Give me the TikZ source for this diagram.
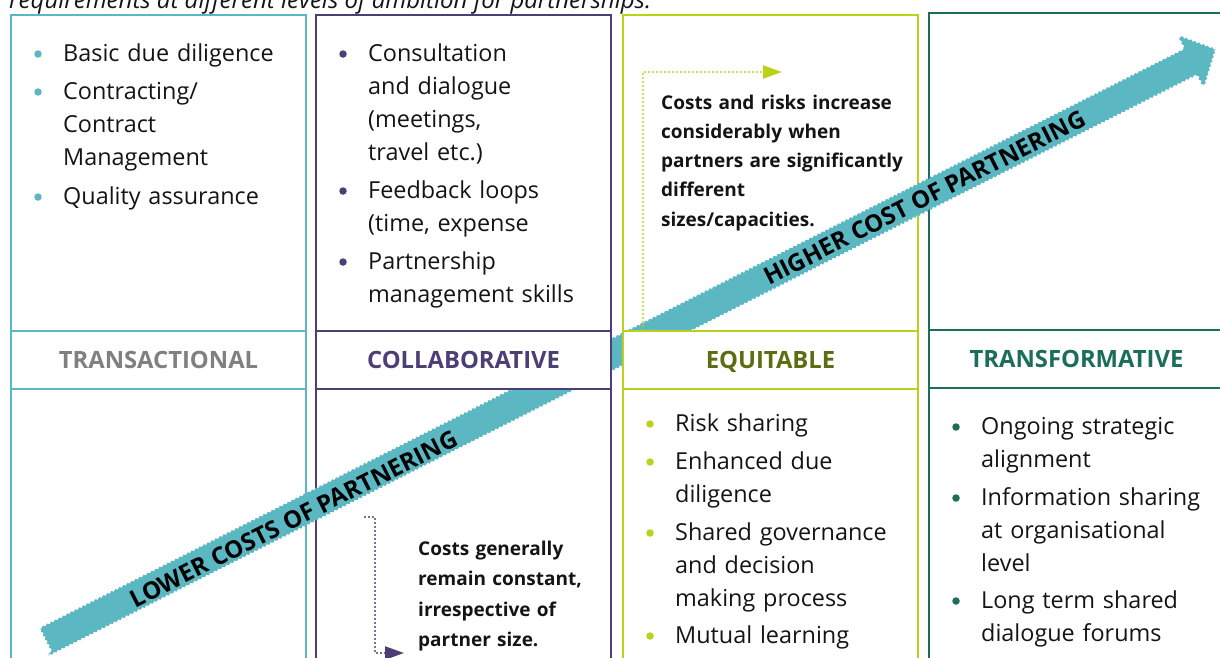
\documentclass[tikz,border=0pt]{standalone}
\usepackage{fontspec}
\setmainfont{Open Sans}
\usetikzlibrary{decorations.pathmorphing,arrows.meta}

\definecolor{cteal}{HTML}{5BB8C3}
\definecolor{cpurple}{HTML}{4C3F74}
\definecolor{clime}{HTML}{BCD11C}
\definecolor{cgreen}{HTML}{1B6E5A}
\definecolor{cgrey}{HTML}{808080}
\definecolor{colive}{HTML}{5E6C12}
\definecolor{ink}{HTML}{141414}

\tikzset{
  frame/.style={draw=#1, line width=2.2pt},
  hdr/.style={draw=#1, fill=white, line width=2.2pt, minimum width=295pt,
    minimum height=58pt, text height=17pt, text depth=0pt, inner sep=0pt,
    font=\bfseries\fontsize{23.8}{26}\selectfont},
  body/.style={anchor=base west, inner sep=0pt, text width=260pt, align=left,
    text=ink, font=\fontsize{23.4}{33}\selectfont},
  note/.style={anchor=base west, inner sep=0pt, text width=270pt, align=left,
    text=ink, font=\bfseries\fontsize{19}{29.3}\selectfont},
  bul/.style={circle, fill=#1, inner sep=0pt, minimum size=7.5pt},
  dotline/.style={draw=#1, line width=2.2pt, line cap=round,
    dash pattern=on 0pt off 4pt,
    -{Triangle[length=19pt,width=13pt,fill=#1]}},
  band/.style={fill=cteal, decorate,
    decoration={snake, segment length=4.5pt, amplitude=0.9pt}},
  bandtext/.style={rotate=26.84, inner sep=0pt, text=black,
    font=\bfseries\fontsize{24}{26}\selectfont}
}

\begin{document}
\begin{tikzpicture}[x=1pt, y=-1pt]
\useasboundingbox (0,0) rectangle (1220,657);

% caption line (upper half falls outside the page)
\node (cap) [anchor=base west, inner sep=0pt, text=ink,
  font=\itshape\fontsize{24}{26}\selectfont] at (9,8)
  {requirements at different levels of ambition for partnerships.};

% column frames: upper and lower boxes
\draw[frame=cteal]   (11,15) rectangle (306,331);
\draw[frame=cteal]   (11,389) rectangle (306,690);
\draw[frame=cpurple] (316,15) rectangle (611,331);
\draw[frame=cpurple] (316,389) rectangle (611,690);
\draw[frame=clime]   (623,15) rectangle (918,331);
\draw[frame=clime]   (623,389) rectangle (918,690);
\draw[frame=cgreen]  (929,13) rectangle (1224,330);
\draw[frame=cgreen]  (929,388) rectangle (1224,690);

% rising cost band
\begin{scope}[shift={(42pt,-642pt)}, x={(0.8923pt,0.4515pt)}, y={(-0.4515pt,0.8923pt)}]
  \path[band] (0,-15) -- (1285,-15) -- (1285,-27) -- (1311,0)
    -- (1285,28) -- (1285,15) -- (0,15) -- cycle;
  \node (lowtxt) [bandtext] at (280,-4) {LOWER COSTS OF PARTNERING};
  \node (hightxt) [bandtext] at (988,-2) {HIGHER COST OF PARTNERING};
\end{scope}

% dotted pointers to the notes
\coordinate (p3s) at (643,330);
\coordinate (p3e) at (782,72);
\draw[dotline=clime] (p3s) |- (p3e);
\coordinate (p2s) at (365,517);
\coordinate (p2e) at (404,653);
\draw[dotline=cpurple] (p2s) -- ++(10,0) |- (p2e);

% header row
\node (h1) [hdr=cteal, text=cgrey]     at (158.5,360) {TRANSACTIONAL};
\node (h2) [hdr=cpurple, text=cpurple] at (463.5,360) {COLLABORATIVE};
\node (h3) [hdr=clime, text=colive]    at (770.5,360) {EQUITABLE};
\node (h4) [hdr=cgreen, text=cgreen]   at (1076.5,359) {TRANSFORMATIVE};

% transactional
\node (b11) [bul=cteal] at (38,54) {};
\node (t11) [body] at (63,61.5) {Basic due diligence};
\node (b12) [bul=cteal] at (38,92) {};
\node (t12) [body] at (63,99.5) {Contracting/\\Contract\\Management};
\node (b13) [bul=cteal] at (38,197) {};
\node (t13) [body] at (63,204.5) {Quality assurance};

% collaborative
\node (b21) [bul=cpurple] at (343,54) {};
\node (t21) [body] at (368,61.5) {Consultation\\and dialogue\\(meetings,\\travel etc.)};
\node (b22) [bul=cpurple] at (343,191) {};
\node (t22) [body] at (368,198.5) {Feedback loops\\(time, expense};
\node (b23) [bul=cpurple] at (343,262) {};
\node (t23) [body] at (368,269.5) {Partnership\\management skills};
\node (n2) [note, font=\bfseries\fontsize{19}{30.6}\selectfont] at (418,555)
  {Costs generally\\remain constant,\\irrespective of\\partner size.};

% equitable
\node (n3) [note] at (661,109) {Costs and risks increase\\considerably when\\partners are significantly\\different\\sizes/capacities.};
\node (b31) [bul=clime] at (650,424) {};
\node (t31) [body] at (675,431.5) {Risk sharing};
\node (b32) [bul=clime] at (650,462) {};
\node (t32) [body] at (675,469.5) {Enhanced due\\diligence};
\node (b33) [bul=clime] at (650,533) {};
\node (t33) [body] at (675,540.5) {Shared governance\\and decision\\making process};
\node (b34) [bul=clime] at (650,636) {};
\node (t34) [body] at (675,643.5) {Mutual learning};

% transformative
\node (b41) [bul=cgreen] at (956,427) {};
\node (t41) [body] at (981,434.5) {Ongoing strategic\\alignment};
\node (b42) [bul=cgreen] at (956,498) {};
\node (t42) [body] at (981,505.5) {Information sharing\\at organisational\\level};
\node (b43) [bul=cgreen] at (956,601) {};
\node (t43) [body] at (981,608.5) {Long term shared\\dialogue forums};
\end{tikzpicture}
\end{document}
